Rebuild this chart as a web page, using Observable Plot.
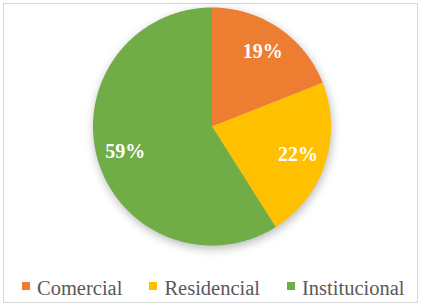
<!DOCTYPE html>
<html><head><meta charset="utf-8">
<script src="https://cdn.jsdelivr.net/npm/d3@7"></script>
<script src="https://cdn.jsdelivr.net/npm/@observablehq/plot@0.6"></script>
<style>
html,body{margin:0;padding:0;background:#fff;}
#wrap{position:relative;width:422px;height:308px;overflow:hidden;background:#fff;}
#frame{position:absolute;left:3px;top:3px;width:413px;height:298px;border:1px solid #d6d6d6;}
#chart{position:absolute;left:0;top:0;}
#chart svg g[aria-label="geo"]{filter:drop-shadow(1px 3px 5px rgba(0,0,0,0.28));}
#legend{position:absolute;left:22px;top:276px;display:flex;align-items:center;height:24px;line-height:24px;
  font-family:"Liberation Serif","Times New Roman",serif;font-size:20.5px;color:#595959;white-space:nowrap;}
#legend .item{display:flex;align-items:center;margin-right:27px;}
#legend .sw{width:8px;height:8px;margin-right:7px;position:relative;top:-2px;}
</style>
</head><body>
<div id="wrap"><div id="frame"></div><div id="chart"></div><div id="legend"></div></div>
<script>
const categories = ["Comercial", "Residencial", "Institucional"];
const shares = [19, 22, 59];
const colors = ["#ED7D31", "#FFC000", "#70AD47"];
const labels = ["19%", "22%", "59%"];

const arcs = d3.pie().sort(null).value(d => d)(shares);
function ring(a0, a1, center) {
  const n = Math.max(4, Math.ceil((a1 - a0) / (Math.PI / 360)));
  const pts = center ? [[0, 0]] : [];
  for (let i = 0; i <= n; i++) {
    const a = a0 + (a1 - a0) * i / n;
    pts.push([Math.sin(a), Math.cos(a)]);
  }
  pts.push(pts[0]);
  return pts;
}
const slices = arcs.map((a, i) => ({
  type: "Feature",
  properties: {category: categories[i], label: labels[i], mid: (a.startAngle + a.endAngle) / 2},
  geometry: {type: "Polygon", coordinates: [ring(a.startAngle, a.endAngle, true)]}
}));
const disc = {type: "Polygon", coordinates: [[[0,1],[1,0],[0,-1],[-1,0],[0,1]].concat(ring(0, 2 * Math.PI, false))]};
const labelRadius = 0.76;
const labelData = slices.map(f => ({
  text: f.properties.label,
  x: labelRadius * Math.sin(f.properties.mid),
  y: labelRadius * Math.cos(f.properties.mid)
}));

const W = 422, H = 270;
const plot = Plot.plot({
  width: W, height: H,
  marginLeft: 92.5, marginRight: W - 330.5, marginTop: 7, marginBottom: H - 245,
  projection: {type: "reflect-y", domain: disc, clip: false},
  color: {domain: categories, range: colors},
  marks: [
    Plot.geo(slices, {fill: d => d.properties.category, stroke: "none"}),
    Plot.text(labelData, {x: "x", y: "y", text: "text", fill: "white", fontSize: 20,
      fontWeight: "bold", fontFamily: "'Liberation Serif','Times New Roman',serif"})
  ]
});
document.getElementById("chart").appendChild(plot);

const legend = document.getElementById("legend");
categories.forEach((c, i) => {
  const item = document.createElement("div"); item.className = "item";
  const sw = document.createElement("span"); sw.className = "sw"; sw.style.background = colors[i];
  const t = document.createElement("span"); t.textContent = c;
  item.appendChild(sw); item.appendChild(t); legend.appendChild(item);
});
</script>
</body></html>
